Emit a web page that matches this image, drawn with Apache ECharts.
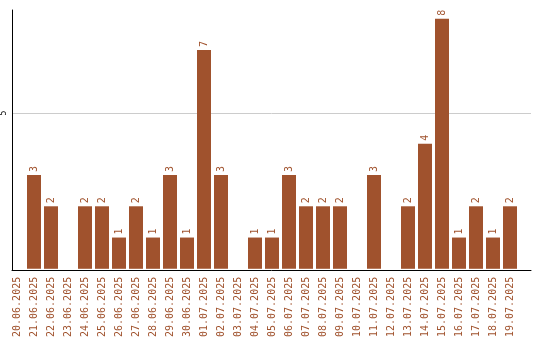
<!DOCTYPE html>
<html><head><meta charset="utf-8">
<script src="https://cdn.jsdelivr.net/npm/echarts@6/dist/echarts.min.js"></script>
<style>html,body{margin:0;padding:0;background:#fff}#c{width:540px;height:340px}</style>
</head><body><div id="c"></div>
<script>
const categories = ["20.06.2025","21.06.2025","22.06.2025","23.06.2025","24.06.2025","25.06.2025","26.06.2025","27.06.2025","28.06.2025","29.06.2025","30.06.2025","01.07.2025","02.07.2025","03.07.2025","04.07.2025","05.07.2025","06.07.2025","07.07.2025","08.07.2025","09.07.2025","10.07.2025","11.07.2025","12.07.2025","13.07.2025","14.07.2025","15.07.2025","16.07.2025","17.07.2025","18.07.2025","19.07.2025"];
const values = [0,3,2,0,2,2,1,2,1,3,1,7,3,0,1,1,3,2,2,2,0,3,0,2,4,8,1,2,1,2];
const yMax = 8.28;
const yTicks = [5];

const color = '#a0522d';
const chart = echarts.init(document.getElementById('c'));
chart.setOption({
  animation: false,
  grid: [
    {left: 8.5, width: 510, top: 10, height: 260},
    {left: 11, width: 520, top: 10, height: 260}
  ],
  xAxis: [
    {type: 'category', gridIndex: 0, data: categories,
     axisLine: {show: false}, axisTick: {show: false},
     axisLabel: {interval: 0, rotate: 90, color: color, fontFamily: 'DejaVu Sans Mono', fontSize: 10, margin: 8}},
    {type: 'value', gridIndex: 1, min: 0, max: 1, show: true,
     axisLine: {show: true, lineStyle: {color: '#000', width: 1}}, axisTick: {show: false},
     axisLabel: {show: false}, splitLine: {show: false}}
  ],
  yAxis: [
    {type: 'value', gridIndex: 0, min: 0, max: yMax, show: false},
    {type: 'value', gridIndex: 1, min: 0, max: yMax, interval: 5,
     axisLine: {show: true, lineStyle: {color: '#000', width: 1}}, axisTick: {show: false},
     axisLabel: {rotate: 90, fontSize: 8, color: '#000', fontFamily: 'DejaVu Sans Mono', margin: 4,
       showMaxLabel: false, formatter: v => yTicks.includes(v) ? String(v) : ''},
     splitLine: {show: true, showMinLine: false, showMaxLine: false, lineStyle: {color: '#cccccc', width: 1}}}
  ],
  series: [{
    type: 'bar', xAxisIndex: 0, yAxisIndex: 0, data: values, barWidth: 14,
    itemStyle: {color: color},
    label: {show: true, position: 'top', rotate: 90, align: 'left', verticalAlign: 'middle', distance: 3,
      color: color, fontFamily: 'DejaVu Sans Mono', fontSize: 10,
      formatter: p => p.value > 0 ? String(p.value) : ''}
  }]
});
</script></body></html>
